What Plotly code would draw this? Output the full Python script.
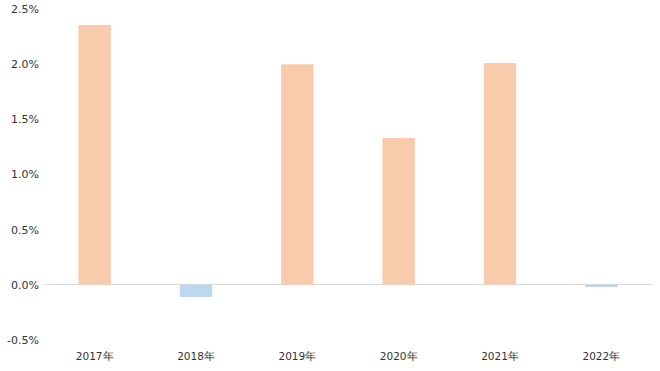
import plotly.graph_objects as go

years = ["2017年", "2018年", "2019年", "2020年", "2021年", "2022年"]
values = [0.02355, -0.0011, 0.0200, 0.0133, 0.0201, -0.0002]
y_tickvals = [-0.005, 0.0, 0.005, 0.010, 0.015, 0.020, 0.025]
y_ticktext = ["-0.5%", "0.0%", "0.5%", "1.0%", "1.5%", "2.0%", "2.5%"]

pos_color = "#F8CBAD"
neg_color = "#BDD7EE"
colors = [pos_color if v >= 0 else neg_color for v in values]

fig = go.Figure(go.Bar(x=years, y=values, marker=dict(color=colors, line=dict(width=0)), width=0.32))

fig.update_layout(
    width=660, height=371,
    margin=dict(l=44, r=8, t=9, b=31),
    paper_bgcolor="white", plot_bgcolor="white",
    showlegend=False,
    font=dict(family="DejaVu Sans", size=11, color="#333333"),
)
fig.update_xaxes(showgrid=False, showline=False, ticks="", tickfont=dict(size=10.5),
                 automargin=False, ticklabelstandoff=8)
fig.update_yaxes(range=[-0.005, 0.025], tickvals=y_tickvals, ticktext=y_ticktext, showgrid=False,
                 zeroline=True, zerolinecolor="#D9D9D9", zerolinewidth=1, showline=False,
                 tickfont=dict(size=11), automargin=False, ticklabelstandoff=4)

fig.write_html("out.html")
